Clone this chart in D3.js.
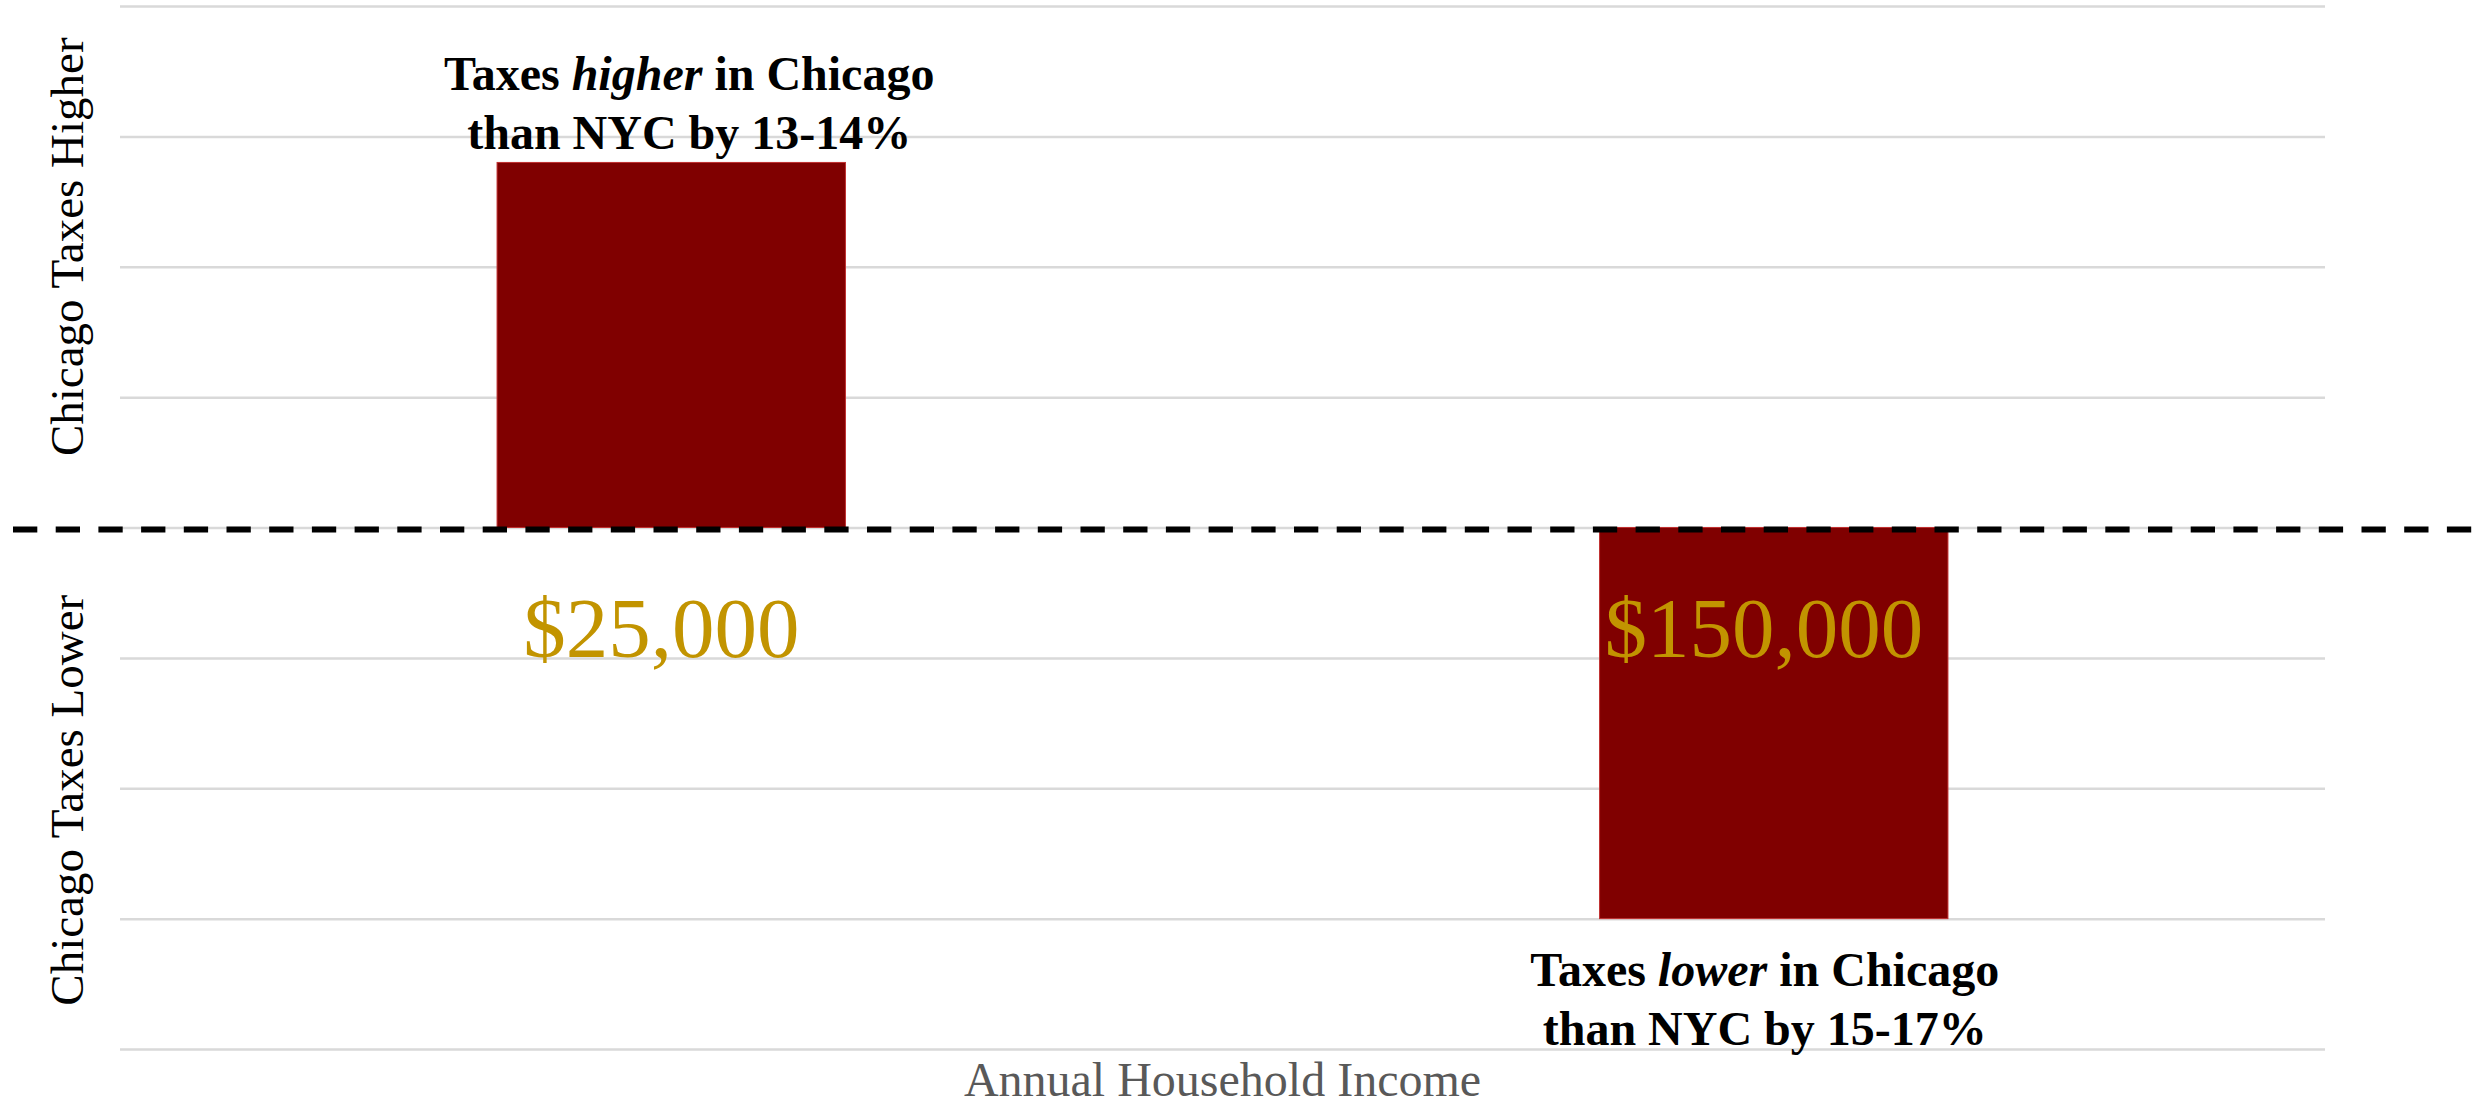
<!DOCTYPE html>
<html>
<head>
<meta charset="utf-8">
<style>
  body { margin: 0; background: #fff; }
  svg { display: block; font-family: "Liberation Serif", "Times New Roman", serif; }
  .grid line { stroke: #d9d9d9; stroke-width: 2.5; }
  .grid path { display: none; }
</style>
</head>
<body>
<svg width="2486" height="1104"></svg>
<script src="https://d3js.org/d3.v7.min.js"></script>
<script>

// chart values
var incomes = ["$25,000", "$150,000"];
var diffs = [0.14, -0.15];          // Chicago vs NYC tax difference (share)
var gridTicks = [-0.2, -0.15, -0.1, -0.05, 0, 0.05, 0.1, 0.15, 0.2];
var noteLines = [
  [["Taxes ", ""], ["higher", "italic"], [" in Chicago", ""]],
  [["than NYC by 13-14%", ""]]
];
var noteLinesLow = [
  [["Taxes ", ""], ["lower", "italic"], [" in Chicago", ""]],
  [["than NYC by 15-17%", ""]]
];
var yLabels = ["Chicago Taxes Higher", "Chicago Taxes Lower"];
var xTitle = "Annual Household Income";

var svg = d3.select("svg");
var plotLeft = 120, plotRight = 2325, plotTop = 6, plotBottom = 1049;

var x = d3.scaleBand().domain(incomes).range([plotLeft, plotRight])
    .paddingInner(0.684).paddingOuter(0.342);
var y = d3.scaleLinear().domain([-0.2, 0.2]).range([plotBottom, plotTop]);

// horizontal gridlines
svg.append("g")
    .attr("class", "grid")
    .attr("transform", "translate(" + plotLeft + ",0)")
    .call(d3.axisLeft(y).tickValues(gridTicks).tickSize(-(plotRight - plotLeft)).tickFormat(""));

// bars
svg.append("g")
  .selectAll("rect")
  .data(diffs)
  .enter().append("rect")
    .attr("x", (d, i) => x(incomes[i]))
    .attr("width", x.bandwidth())
    .attr("y", d => y(Math.max(0, d)))
    .attr("height", d => Math.abs(y(d) - y(0)))
    .attr("fill", "#800000")
    .attr("stroke", "#c03030")
    .attr("stroke-width", 1);

// dashed zero line
svg.append("line")
    .attr("x1", 13).attr("x2", 2486)
    .attr("y1", y(0) + 2).attr("y2", y(0) + 2)
    .attr("stroke", "#000")
    .attr("stroke-width", 6)
    .attr("stroke-dasharray", "24.3 18.4");

// income category labels
svg.append("g")
  .selectAll("text")
  .data(incomes)
  .enter().append("text")
    .attr("x", d => x(d) + x.bandwidth() / 2 - 10)
    .attr("y", y(-0.05) - 1)
    .attr("text-anchor", "middle")
    .attr("font-size", 85)
    .attr("fill", "#c29400")
    .text(d => d);

// annotations
function note(lines, cx, baseY) {
  var t = svg.append("text")
      .attr("text-anchor", "middle")
      .attr("font-size", 48)
      .attr("font-weight", "bold")
      .attr("fill", "#000");
  lines.forEach((segs, i) => {
    segs.forEach((s, j) => {
      var ts = t.append("tspan").text(s[0]).attr("font-style", s[1] || "normal");
      if (j === 0) ts.attr("x", cx).attr("y", baseY + i * 59);
    });
  });
}
note(noteLines, x(incomes[0]) + x.bandwidth() / 2 + 18, y(diffs[0]) - 72);
note(noteLinesLow, x(incomes[1]) + x.bandwidth() / 2 - 9, y(diffs[1]) + 67);

// y labels
var yLabelPos = [y(0.1) - 20, y(-0.1) + 12];
svg.append("g")
  .selectAll("text")
  .data(yLabels)
  .enter().append("text")
    .attr("transform", (d, i) => "translate(83," + yLabelPos[i] + ") rotate(-90)")
    .attr("text-anchor", "middle")
    .attr("font-size", 47)
    .attr("fill", "#000")
    .text(d => d);

// x title
svg.append("text")
    .attr("x", (plotLeft + plotRight) / 2)
    .attr("y", 1096)
    .attr("text-anchor", "middle")
    .attr("font-size", 48)
    .attr("fill", "#595959")
    .text(xTitle);

</script>
</body>
</html>
